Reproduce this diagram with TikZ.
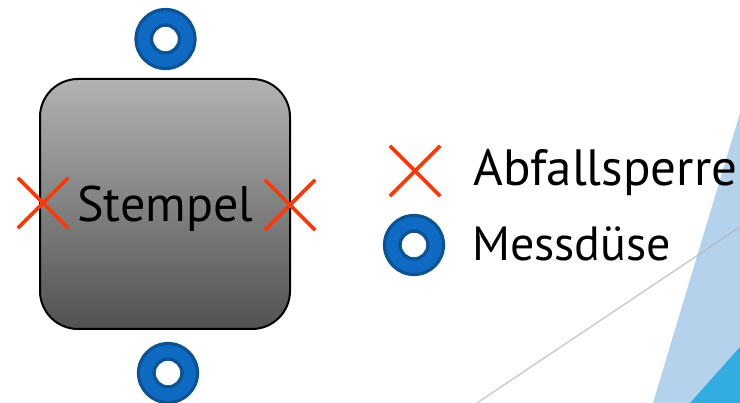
\documentclass[tikz,border=0pt]{standalone}
\usepackage{fontspec}
\setsansfont{PT Sans}
\definecolor{ringblue}{HTML}{0F6AC4}
\definecolor{ringedge}{HTML}{0B5394}
\definecolor{crossred}{HTML}{FA3A0A}
\definecolor{triLight}{HTML}{B5D2EC}
\definecolor{triDark}{HTML}{33ACE0}
\tikzset{
  ring/.style={circle,draw=ringedge,line width=3.2pt,fill=ringblue,minimum size=59,inner sep=0pt},
  hole/.style={circle,draw=ringedge,line width=3.4pt,fill=white,minimum size=28,inner sep=0pt},
  crossmark/.style={minimum size=50,inner sep=0pt},
  crossline/.style={draw=crossred,line width=3.6pt},
  lab/.style={font=\sffamily\fontsize{50}{54}\selectfont,text=black,inner sep=0pt,anchor=base west},
}
\begin{document}
\begin{tikzpicture}[x=1pt,y=-1pt]
\useasboundingbox (0,0) rectangle (740,403);
\fill[white] (0,0) rectangle (740,403);
% background decoration
\fill[triLight] (740,113) -- (740,403) -- (653,403) -- cycle;
\fill[triDark] (740,347) -- (740,403) -- (690,403) -- cycle;
\coordinate (g1) at (740,227);
\coordinate (g2) at (477,403);
\draw[black!30,opacity=.7,line width=1.3pt] (g1) -- (g2);
% stamp
\node[draw=black,line width=2pt,rounded corners=38,minimum width=250,minimum height=250,inner sep=0pt,
  top color=black!30,bottom color=black!68] (stempel) at (165,204) {};
\node[lab] (stempeltext) at (77,222) {Stempel};
% nozzles
\node[ring] (r1) at (165.5,39) {};
\node[hole] (h1) at (r1.center) {};
\node[ring] (r2) at (168,373) {};
\node[hole] (h2) at (r2.center) {};
\node[ring] (r3) at (414,245) {};
\node[hole] (h3) at (r3.center) {};
% stops
\foreach \n/\x/\y in {c1/43/203,c2/290/205,c3/415/171}{
  \node[crossmark] (\n) at (\x,\y) {};
  \draw[crossline] (\n.north west) -- (\n.south east);
  \draw[crossline] (\n.north east) -- (\n.south west);
}
% legend
\node[lab,font=\sffamily\fontsize{51}{54}\selectfont] (l1) at (473.5,186) {Abfallsperre};
\node[lab,font=\sffamily\fontsize{48}{54}\selectfont] (l2) at (472,261) {Messdüse};
\end{tikzpicture}
\end{document}
